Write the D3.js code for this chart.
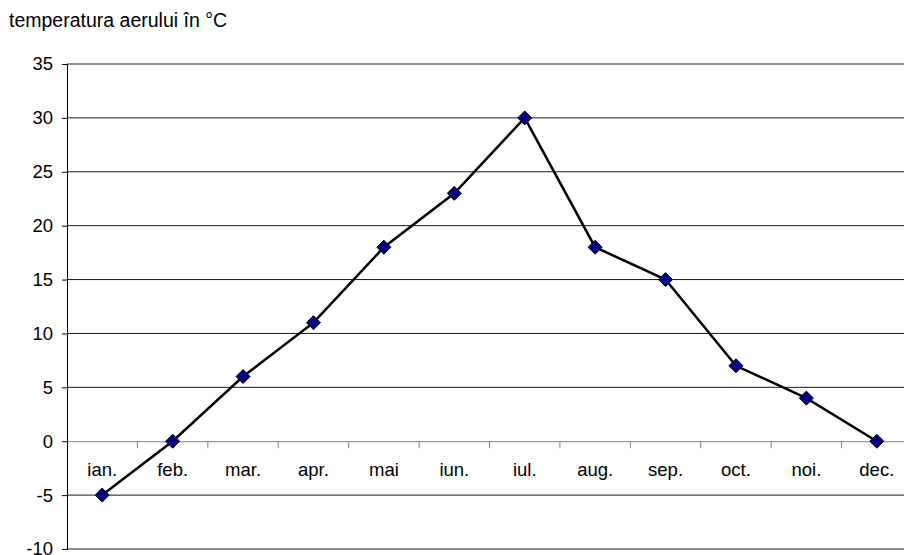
<!DOCTYPE html>
<html>
<head>
<meta charset="utf-8">
<script src="https://cdn.jsdelivr.net/npm/d3@7"></script>
<style>
  body { margin: 0; background: #fff; }
  svg { display: block; font-family: "Liberation Sans", Arial, sans-serif; }
</style>
</head>
<body>
<svg></svg>
<script>
const months = ["ian.", "feb.", "mar.", "apr.", "mai", "iun.", "iul.", "aug.", "sep.", "oct.", "noi.", "dec."];
const temps = [-5, 0, 6, 11, 18, 23, 30, 18, 15, 7, 4, 0];
const yTicks = [-10, -5, 0, 5, 10, 15, 20, 25, 30, 35];
const title = "temperatura aerului în °C";

const width = 904;
const height = 555;
const plot = { left: 67, right: 912, top: 64, bottom: 549 };

const svg = d3.select("svg").attr("width", width).attr("height", height);

const x = d3.scaleBand().domain(months).range([plot.left, plot.right]);
const y = d3.scaleLinear().domain([-10, 35]).range([plot.bottom, plot.top]);

// horizontal gridlines
svg.append("g")
  .selectAll("line")
  .data(yTicks.filter(d => d !== 0))
  .join("line")
  .attr("x1", plot.left)
  .attr("x2", plot.right)
  .attr("y1", d => y(d))
  .attr("y2", d => y(d))
  .attr("stroke", "#1a1a1a")
  .attr("stroke-width", 1);

// y axis, plain hyphen for negatives like the original
const yAxis = svg.append("g")
  .attr("transform", `translate(${plot.left},0)`)
  .call(d3.axisLeft(y).tickValues(yTicks).tickSize(5).tickPadding(9).tickFormat(d => String(d)));
yAxis.select(".domain").attr("stroke", "#000");
yAxis.selectAll(".tick line").attr("stroke", "#000");
yAxis.selectAll("text")
  .attr("font-size", 18.5)
  .attr("font-family", "Liberation Sans, Arial, sans-serif")
  .attr("fill", "#000");

// x axis on the zero line
const xAxis = svg.append("g")
  .attr("transform", `translate(0,${y(0)})`)
  .call(d3.axisBottom(x).tickSize(0).tickPadding(0));
xAxis.select(".domain").attr("stroke", "#808080");
xAxis.selectAll("text")
  .attr("y", 35)
  .attr("dy", 0)
  .attr("font-size", 18.5)
  .attr("font-family", "Liberation Sans, Arial, sans-serif")
  .attr("fill", "#000");

// category separator ticks
svg.append("g")
  .selectAll("line")
  .data(months.slice(1))
  .join("line")
  .attr("x1", d => x(d))
  .attr("x2", d => x(d))
  .attr("y1", y(0))
  .attr("y2", y(0) + 7)
  .attr("stroke", "#808080");

// line
const line = d3.line()
  .x((d, i) => x(months[i]) + x.bandwidth() / 2)
  .y(d => y(d));

svg.append("path")
  .datum(temps)
  .attr("fill", "none")
  .attr("stroke", "#000")
  .attr("stroke-width", 2.5)
  .attr("d", line);

// diamond markers
svg.append("g")
  .selectAll("path")
  .data(temps)
  .join("path")
  .attr("transform", (d, i) => `translate(${x(months[i]) + x.bandwidth() / 2},${y(d)})`)
  .attr("d", "M0,-7L7,0L0,7L-7,0Z")
  .attr("fill", "#000080")
  .attr("stroke", "#000")
  .attr("stroke-width", 1);

// title
svg.append("text")
  .attr("x", 9)
  .attr("y", 27)
  .attr("font-size", 19.5)
  .attr("fill", "#000")
  .text(title);
</script>
</body>
</html>
